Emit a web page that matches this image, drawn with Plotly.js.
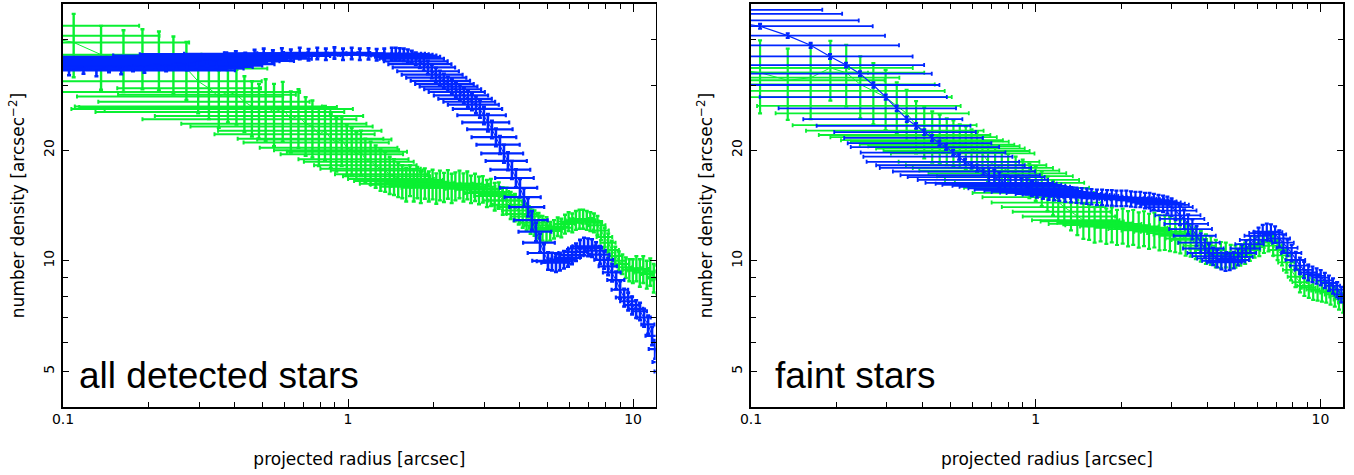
<!DOCTYPE html>
<html>
<head>
<meta charset="utf-8">
<script src="https://cdn.plot.ly/plotly-3.0.1.min.js"></script>
<style>html,body{margin:0;padding:0;background:#fff;}#chart{width:1354px;height:475px;}</style>
</head>
<body>
<div id="chart"></div>
<script>
// ---------- tick labels ----------
const xTickVals = [0.1, 1, 10];
const xTickText = ['0.1', '1', '10'];
const xMinorVals = [0.2,0.3,0.4,0.5,0.6,0.7,0.8,0.9,2,3,4,5,6,7,8,9];
const yTickVals = [5, 10, 20];
const yTickText = ['5', '10', '20'];
const yMinorVals = [4,6,7,8,9,30,40,50];
const xTitle = 'projected radius [arcsec]';
const yTitle = 'number density [arcsec<sup>−2</sup>]';
const panelLabels = ['all detected stars', 'faint stars'];

// ---------- panel 1: all detected stars, blue ----------
const p1BlueX = [0.105,0.118,0.131,0.145,0.160,0.176,0.193,0.211,0.230,0.250,0.272,0.295,0.320,0.346,0.374,0.404,0.436,0.470,0.506,0.545,0.586,0.630,0.677,0.727,0.780,0.836,0.896,0.960,1.03,1.10,1.18,1.26,1.34,
 1.424,1.471,1.519,1.569,1.621,1.674,1.729,1.786,1.845,1.905,1.968,2.033,2.100,2.169,2.240,2.314,2.390,2.469,2.550,2.634,2.721,2.810,2.902,2.998,3.096,3.198,3.303,3.412,3.524,3.639,3.758,3.882,4.010,4.142,4.278,4.419,4.564,4.714,4.869,5.029,
 5.193,5.364,5.540,5.723,5.911,6.106,6.307,6.515,6.729,6.951,7.179,7.416,7.660,7.912,8.173,8.442,8.720,9.007,9.303,9.610,9.920,10.25,10.58,10.93,11.29,11.66,11.95,12.3,12.5];
const p1BlueY = [33.2,33.6,33.0,33.9,33.4,34.1,33.7,34.4,34.0,34.6,34.3,34.9,35.2,35.0,35.6,35.9,35.5,36.2,36.5,36.1,36.6,36.3,36.7,36.4,36.7,36.5,36.8,36.5,36.7,36.5,36.6,36.4,36.5,
 36.6,36.6,36.5,36.4,36.2,35.9,35.5,34.9,34.3,33.6,32.8,32.1,31.5,30.9,30.3,29.8,29.3,28.8,28.2,27.6,27.1,26.6,25.9,24.9,23.8,22.8,21.7,20.7,19.6,18.7,17.7,16.8,15.8,14.9,14.0,12.9,12.0,11.2,10.5,10.0,
 9.97,9.88,9.97,10.08,10.19,10.36,10.57,10.80,10.95,10.90,10.85,10.65,10.39,10.06,9.66,9.30,8.86,8.34,7.95,7.76,7.57,7.40,7.29,7.01,6.71,6.25,5.75,5.3,5.0];
const p1BlueXerr = [.27,.27,.27,.27,.27,.27,.27,.27,.27,.27,.28,.28,.29,.30,.30,.31,.31,.32,.32,.32,.32,.31,.31,.30,.30,.30,.30,.30,.31,.32,.33,.34,.35,
 .38,.39,.40,.41,.42,.43,.44,.45,.46,.47,.48,.49,.5,.51,.52,.53,.54,.55,.55,.56,.56,.57,.57,.58,.58,.58,.59,.59,.59,.6,.6,.6,.6,.6,.6,.6,.6,.6,.6,.6,
 .6,.6,.6,.6,.6,.6,.6,.6,.6,.6,.6,.6,.6,.6,.6,.6,.6,.6,.6,.6,.6,.6,.6,.6,.6,.6,.6,.6,.6];
const p1BlueYerr = [1.2,1.3,1.2,1.3,1.2,1.3,1.2,1.3,1.2,1.3,1.3,1.3,1.3,1.3,1.3,1.3,1.3,1.3,1.3,1.3,1.3,1.3,1.3,1.3,1.3,1.3,1.3,1.3,1.3,1.3,1.3,1.3,1.3,
 1.4,1.4,1.4,1.4,1.4,1.4,1.4,1.4,1.4,1.4,1.4,1.4,1.4,1.4,1.4,1.4,1.4,1.4,1.4,1.4,1.4,1.4,1.4,1.35,1.3,1.25,1.2,1.15,1.1,1.05,1.0,.95,.9,.85,.8,.75,.7,.65,.6,.55,
 .55,.55,.55,.55,.55,.57,.58,.6,.6,.6,.6,.58,.57,.55,.53,.52,.49,.46,.44,.43,.42,.41,.4,.39,.38,.36,.34,.32,.3];

// ---------- panel 1: all detected stars, green ----------
const p1GreenX = [.055,.082,.109,.136,.163,.190,.217,.244,.271,.298,.325,.352,.379,.406,.433,.460,.487,
 .514,.55,.59,.63,.67,.71,.75,.79,.83,.87,.91,.95,.99,1.03,1.07,1.11,1.15,1.20,1.25,1.30,1.35,1.40,1.45,1.50,
 1.55,1.6,1.65,1.7,1.75,1.8,1.86,1.92,1.98,2.04,2.1,2.17,2.24,2.31,2.38,2.46,2.54,2.62,2.7,2.79,2.88,2.97,3.07,3.17,3.27,3.38,3.49,3.6,3.72,3.84,3.97,4.1,4.23,4.37,4.51,4.66,4.81,4.97,
 5.12,5.28,5.44,5.6,5.77,5.94,6.12,6.3,6.49,6.68,6.88,7.08,7.29,7.5,7.72,7.95,8.18,8.42,8.66,8.91,9.17,9.43,9.7,9.98,10.27,10.56,10.86,11.17,11.49,11.82,12.15];
const p1GreenY = [43.6,41.0,39.3,36.4,35.6,36.0,35.6,34.6,33.4,30.8,29.5,28.0,28.8,28.3,27.1,26.3,25.9,
 26.2,25.4,25.9,24.3,24.8,23.6,23.2,22.1,22.6,21.5,21.0,21.4,20.3,20.0,19.5,19.8,18.9,18.6,18.2,17.8,17.6,17.2,17.0,16.7,
 16.5,16.2,16.6,16.1,16.4,15.9,16.3,16.0,16.2,15.8,16.1,15.9,16.2,15.8,16.0,16.2,15.9,16.1,15.7,15.9,15.6,15.7,15.3,15.4,15.0,15.1,14.6,14.6,14.2,14.0,13.7,13.4,13.2,12.9,12.7,12.5,12.3,12.2,
 12.05,12.2,12.4,12.3,12.6,12.8,12.7,12.9,13.0,13.0,12.9,12.8,12.7,12.5,12.1,11.6,11.2,10.7,10.3,10.0,9.8,9.6,9.45,9.4,9.55,9.3,9.5,9.2,9.35,9.0,8.9];
const p1GreenXerr = [.13,.136,.168,.17,.34,.2,.19,.2,.25,.2,.17,.24,.3,.25,.3,.35,.38,
 .4,.42,.45,.44,.46,.45,.47,.45,.48,.46,.48,.47,.5,.48,.49,.5,.48,.5,.49,.5,.48,.5,.49,.5,
 .5,.5,.5,.5,.5,.5,.5,.5,.5,.5,.5,.5,.5,.5,.5,.5,.5,.5,.5,.5,.5,.5,.5,.5,.5,.5,.5,.5,.5,.5,.5,.5,.5,.5,.5,.5,.5,.5,
 .5,.5,.5,.5,.5,.5,.5,.5,.5,.5,.5,.5,.5,.5,.5,.5,.5,.5,.5,.5,.5,.5,.5,.5,.5,.5,.5,.5,.5,.5,.5];
const p1GreenYerr = [8.0,7.8,7.7,7.2,6.8,6.7,6.5,6.2,6.0,5.6,5.2,5.0,5.0,4.8,4.7,4.5,4.4,
 5.0,4.9,4.8,4.6,4.5,4.3,4.1,4.0,3.8,3.6,3.5,3.3,3.2,3.0,2.9,2.8,2.6,2.5,2.4,2.3,2.2,2.0,1.9,1.8,
 1.7,1.7,1.6,1.6,1.6,1.55,1.55,1.5,1.5,1.5,1.5,1.45,1.45,1.45,1.4,1.4,1.4,1.4,1.35,1.35,1.35,1.3,1.3,1.3,1.3,1.25,1.25,1.2,1.2,1.2,1.15,1.1,1.1,1.05,1.0,1.0,.95,.95,
 .7,.7,.72,.72,.74,.75,.75,.76,.77,.77,.76,.75,.75,.74,.72,.7,.67,.64,.62,.6,.6,.62,.65,.7,.75,.8,.8,.8,.8,.8,.8];

// ---------- panel 2: faint stars, blue ----------
const p2BlueX = [.027,.054,.081,.1076,.1346,.162,.1895,.2156,.2414,.269,.2973,.325,.3526,.380,.406,.4324,.4586,.484,.5128,.5381,.5647,.5951,.6233,.655,
 .685,.715,.745,.78,.815,.85,.89,.93,.97,1.01,1.06,1.11,1.16,1.21,1.27,1.33,1.39,1.45,1.51,1.57,1.64,1.71,1.78,1.85,1.92,2.0,2.08,2.16,2.24,2.33,
 2.42,2.51,2.6,2.7,2.8,2.9,3.0,3.1,3.21,3.32,3.43,3.55,3.67,3.8,3.93,4.06,4.2,4.34,4.49,4.64,4.8,4.96,5.13,5.3,5.48,5.67,5.86,6.06,6.27,6.48,
 6.7,6.93,7.17,7.41,7.66,7.92,8.19,8.47,8.76,9.06,9.37,9.69,10.02,10.36,10.71,11.07,11.45,11.84,12.2];
const p2BlueY = [48.2,47.0,45.1,43.5,41.0,38.6,36.0,34.1,32.3,30.1,27.9,26.0,24.3,23.3,22.4,21.6,20.9,20.4,19.7,19.2,18.6,18.2,17.9,17.5,
 17.1,16.9,16.6,16.3,16.2,16.1,16.0,15.9,15.75,15.6,15.5,15.4,15.35,15.3,15.2,15.15,15.1,15.05,15.0,14.95,14.9,14.9,14.85,14.85,14.8,14.8,14.8,14.75,14.7,14.7,
 14.6,14.6,14.5,14.4,14.3,14.2,14.0,13.7,13.3,13.0,12.6,12.2,11.7,11.2,10.8,10.5,10.3,10.15,10.0,9.9,9.95,10.05,10.25,10.5,10.8,11.1,11.4,11.7,11.9,12.0,
 11.95,11.8,11.5,11.2,10.85,10.5,10.05,9.7,9.45,9.3,9.2,9.1,9.0,8.85,8.7,8.55,8.35,8.1,7.9];
const p2BlueXerr = [.151,.155,.158,.16,.161,.169,.18,.19,.19,.19,.19,.2,.2,.21,.21,.22,.24,.26,.27,.29,.31,.32,.34,.34,
 .35,.36,.36,.37,.37,.38,.38,.39,.39,.4,.4,.41,.41,.42,.42,.43,.43,.44,.44,.45,.45,.46,.46,.47,.47,.48,.48,.49,.49,.5,
 .5,.51,.52,.53,.54,.55,.56,.57,.58,.59,.6,.61,.62,.63,.64,.65,.65,.65,.65,.65,.65,.65,.65,.65,.65,.65,.65,.65,.65,.65,
 .65,.65,.65,.65,.65,.65,.65,.65,.65,.65,.65,.65,.65,.65,.65,.65,.65,.65,.65];
const p2BlueYerr = [.7,.7,.7,.65,.6,.6,.55,.5,.5,.5,.45,.45,.4,.4,.4,.4,.35,.35,.35,.35,.35,.35,.35,.35,
 .8,.8,.8,.78,.78,.77,.77,.76,.76,.75,.75,.75,.74,.74,.74,.73,.73,.73,.72,.72,.72,.72,.72,.72,.72,.72,.72,.71,.71,.71,
 .71,.71,.71,.72,.74,.76,.78,.8,.8,.8,.78,.76,.72,.68,.64,.6,.57,.55,.53,.52,.52,.52,.53,.54,.56,.58,.6,.61,.62,.62,
 .62,.61,.6,.58,.56,.54,.52,.5,.48,.46,.45,.44,.43,.42,.42,.41,.4,.39,.38];

// ---------- panel 2: faint stars, green ----------
const p2GreenX = [.081,.1076,.1346,.162,.19,.216,.242,.269,.297,.325,.352,.38,.406,.433,.46,.487,.514,.541,.568,.595,.622,.65,
 .68,.72,.76,.8,.85,.9,.95,1.0,1.05,1.1,1.15,1.2,1.26,1.33,1.4,1.47,1.54,1.61,1.69,1.77,1.85,1.93,2.02,2.11,2.2,2.3,2.4,2.5,2.61,2.72,
 2.84,2.96,3.09,3.22,3.36,3.5,3.65,3.8,3.96,4.12,4.29,4.47,4.65,4.84,5.03,5.23,5.44,5.65,5.87,6.1,6.33,6.57,6.82,7.07,7.33,7.6,7.88,8.17,8.47,8.78,
 9.1,9.43,9.77,10.12,10.48,10.85,11.23,11.62,12.02];
const p2GreenY = [33.5,32.5,31.0,31.5,33.5,32.5,30.2,29.0,27.9,26.4,25.2,23.4,22.6,22.0,21.7,21.3,21.1,20.7,20.5,20.2,19.9,19.6,
 18.6,18.2,17.9,17.6,17.3,17.0,16.6,16.3,15.8,15.3,14.9,14.4,14.0,13.6,13.2,12.9,12.8,12.6,12.7,12.5,12.6,12.4,12.5,12.3,12.4,12.2,12.3,12.1,12.2,12.0,
 12.0,11.9,11.8,11.7,11.5,11.4,11.2,11.0,10.8,10.7,10.5,10.4,10.4,10.3,10.3,10.4,10.5,10.7,10.9,11.0,11.2,11.3,11.0,10.7,10.35,9.9,9.45,9.05,8.75,8.55,
 8.45,8.35,8.3,8.25,8.2,8.1,8.0,7.85,7.7];
const p2GreenXerr = [.14,.15,.16,.17,.18,.19,.2,.21,.21,.22,.23,.24,.25,.26,.27,.28,.29,.3,.31,.32,.33,.34,
 .35,.37,.39,.41,.43,.45,.47,.48,.49,.5,.5,.5,.5,.5,.5,.5,.5,.5,.5,.5,.5,.5,.5,.5,.5,.5,.5,.5,.5,.5,
 .5,.5,.5,.5,.5,.5,.5,.5,.5,.5,.5,.5,.5,.5,.5,.5,.5,.5,.5,.5,.5,.5,.5,.5,.5,.5,.5,.5,.5,.5,
 .5,.5,.5,.5,.5,.5,.5,.5,.5];
const p2GreenYerr = [7.0,7.3,6.8,7.2,6.2,6.2,5.8,5.5,5.2,4.2,4.0,3.8,3.6,3.5,3.3,3.1,3.0,2.8,2.7,2.6,2.5,2.4,
 2.2,2.1,2.0,1.95,1.9,1.85,1.8,1.75,1.7,1.65,1.6,1.55,1.5,1.5,1.45,1.42,1.4,1.4,1.4,1.38,1.38,1.36,1.36,1.35,1.35,1.34,1.34,1.33,1.33,1.32,
 1.3,1.28,1.25,1.22,1.18,1.14,1.1,1.05,1.0,.95,.9,.85,.8,.75,.72,.7,.7,.7,.7,.7,.7,.7,.68,.66,.64,.62,.6,.57,.55,.53,
 .52,.52,.51,.51,.51,.5,.5,.49,.48];

// ---------- styles ----------
const BLUE = 'rgb(0,38,255)';
const GREEN = 'rgb(10,240,50)';
const axisFont = {family: 'DejaVu Sans, sans-serif', size: 14, color: '#000'};
const titleFont = {family: 'DejaVu Sans, sans-serif', size: 17, color: '#000'};

function series(x, y, xe, ye, color, xa, ya, lw, th) {
  return {
    type: 'scatter', mode: 'lines', x: x, y: y, xaxis: xa, yaxis: ya,
    line: {color: color, width: lw},
    error_x: {type: 'data', array: xe, symmetric: true, color: color, thickness: th, width: 2},
    error_y: {type: 'data', array: ye, symmetric: true, color: color, thickness: th + 0.4, width: 2},
    hoverinfo: 'skip', showlegend: false
  };
}

function xAxis(domain, anchor) {
  return {
    type: 'log', domain: domain, anchor: anchor, range: [-1, Math.log10(12)],
    showgrid: false, zeroline: false, showline: true, linecolor: '#000', linewidth: 1.6, mirror: 'allticks',
    ticks: 'inside', ticklen: 8, tickwidth: 1, tickcolor: '#000',
    tickmode: 'array', tickvals: xTickVals, ticktext: xTickText, tickfont: axisFont, ticklabelstandoff: -1,
    minor: {tickmode: 'array', tickvals: xMinorVals, ticks: 'inside', ticklen: 5, tickwidth: 1, tickcolor: '#000', showgrid: false},
    title: {text: xTitle, font: titleFont, standoff: 26},
    automargin: false, fixedrange: true
  };
}
function yAxis(anchor) {
  return {
    type: 'log', domain: [0, 1], anchor: anchor, range: [Math.log10(4), Math.log10(50)],
    showgrid: false, zeroline: false, showline: true, linecolor: '#000', linewidth: 1.6, mirror: 'allticks',
    ticks: 'inside', ticklen: 6, tickwidth: 1, tickcolor: '#000',
    tickmode: 'array', tickvals: yTickVals, ticktext: yTickText, tickfont: axisFont, tickangle: -90, ticklabelstandoff: 2,
    minor: {tickmode: 'array', tickvals: yMinorVals, ticks: 'inside', ticklen: 5, tickwidth: 1, tickcolor: '#000', showgrid: false},
    title: {text: yTitle, font: titleFont, standoff: 12},
    automargin: false, fixedrange: true
  };
}

const data = [
  series(p1GreenX, p1GreenY, p1GreenXerr, p1GreenYerr, GREEN, 'x', 'y', 1, 2),
  series(p1BlueX, p1BlueY, p1BlueXerr, p1BlueYerr, BLUE, 'x', 'y', 1, 2.2),
  series(p2GreenX, p2GreenY, p2GreenXerr, p2GreenYerr, GREEN, 'x2', 'y2', 1, 1.8),
  series(p2BlueX, p2BlueY, p2BlueXerr, p2BlueYerr, BLUE, 'x2', 'y2', 1.2, 1.8)
];

const layout = {
  width: 1354, height: 475,
  margin: {l: 63, r: 11, t: 4, b: 68, pad: 0},
  paper_bgcolor: '#fff', plot_bgcolor: '#fff', showlegend: false,
  xaxis: xAxis([0, 0.463], 'y'),
  yaxis: yAxis('x'),
  xaxis2: xAxis([0.5375, 1], 'y2'),
  yaxis2: yAxis('x2'),
  annotations: [
    {xref: 'x domain', yref: 'y domain', x: 0.024, y: 0.078, xanchor: 'left', yanchor: 'middle', showarrow: false,
     text: panelLabels[0], font: {family: 'Liberation Sans, Arial, sans-serif', size: 37, color: '#000'}},
    {xref: 'x2 domain', yref: 'y2 domain', x: 0.037, y: 0.078, xanchor: 'left', yanchor: 'middle', showarrow: false,
     text: panelLabels[1], font: {family: 'Liberation Sans, Arial, sans-serif', size: 37, color: '#000'}}
  ]
};

Plotly.newPlot('chart', data, layout, {displayModeBar: false, staticPlot: true});
</script>
</body>
</html>
